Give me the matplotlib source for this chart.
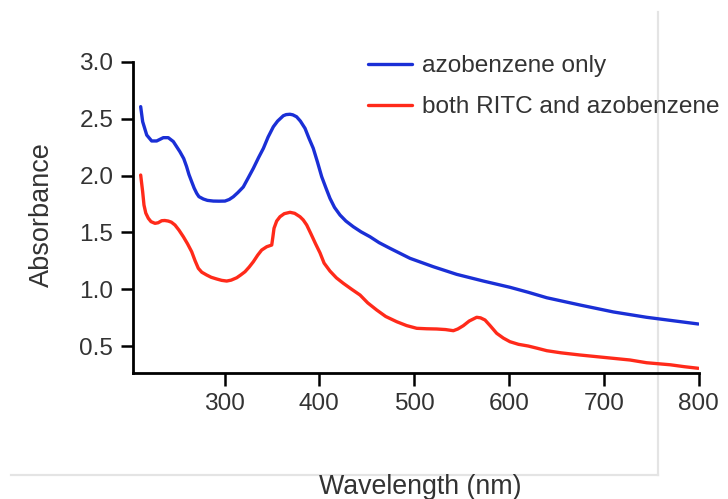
import matplotlib
matplotlib.use("Agg")
import matplotlib.pyplot as plt
from matplotlib.lines import Line2D

plt.rcParams['font.family'] = ['Liberation Sans', 'DejaVu Sans']

# --- data ---
wl_azo = [211.6, 213.7, 218.0, 223.2, 228.5, 235.5, 240.7, 246.0, 253.0, 257.0,
          260.0, 262.5, 265.4, 268.0, 270.7, 273.0, 277.7, 282.0, 288.2, 294.0,
          300.5, 305.0, 309.3, 314.0, 319.8, 325.0, 330.4, 336.0, 341.0, 346.0,
          351.5, 356.0, 362.0, 365.0, 369.0, 372.0, 376.0, 380.0, 384.9, 389.0,
          393.6, 398.0, 402.5, 407.0, 411.2, 416.0, 421.8, 428.0, 435.8, 444.0,
          453.4, 463.0, 474.5, 495.6, 520.2, 544.8, 572.9, 601.0, 620.3, 639.8,
          674.9, 710.0, 745.0, 799.6]
abs_azo = [2.607, 2.475, 2.357, 2.305, 2.305, 2.334, 2.334, 2.300, 2.210, 2.150,
           2.080, 2.010, 1.946, 1.890, 1.844, 1.815, 1.794, 1.782, 1.776, 1.775,
           1.776, 1.790, 1.814, 1.850, 1.900, 1.980, 2.064, 2.160, 2.240, 2.340,
           2.430, 2.480, 2.527, 2.537, 2.540, 2.535, 2.518, 2.480, 2.416, 2.330,
           2.240, 2.120, 1.990, 1.890, 1.800, 1.720, 1.653, 1.600, 1.550, 1.505,
           1.462, 1.410, 1.360, 1.272, 1.198, 1.131, 1.072, 1.017, 0.973, 0.925,
           0.861, 0.800, 0.753, 0.694]

wl_both = [211.6, 213.7, 215.1, 217.0, 219.7, 222.5, 226.7, 230.0, 233.8, 237.0,
           240.7, 244.0, 247.8, 252.0, 256.6, 261.0, 265.4, 269.0, 272.4, 276.0,
           281.2, 286.0, 291.8, 297.0, 302.3, 307.0, 312.9, 317.0, 321.6, 326.0,
           330.4, 335.0, 339.2, 344.5, 349.8, 351.0, 352.2, 355.0, 358.5, 363.0,
           369.1, 374.0, 379.6, 383.0, 386.7, 391.0, 396.0, 400.7, 405.0, 411.2,
           418.0, 425.3, 434.0, 442.9, 451.0, 460.5, 470.0, 481.6, 492.0, 502.7,
           513.0, 523.7, 533.0, 541.3, 546.0, 551.8, 558.0, 565.9, 570.0, 574.7,
           580.0, 587.0, 594.0, 601.0, 610.0, 620.3, 630.0, 639.8, 655.0, 674.9,
           700.0, 727.6, 745.0, 770.0, 785.0, 799.6]
abs_both = [2.005, 1.858, 1.741, 1.670, 1.624, 1.595, 1.580, 1.585, 1.603, 1.605,
            1.600, 1.590, 1.565, 1.520, 1.462, 1.400, 1.330, 1.250, 1.184, 1.150,
            1.125, 1.105, 1.090, 1.078, 1.072, 1.080, 1.101, 1.125, 1.154, 1.195,
            1.242, 1.300, 1.345, 1.374, 1.389, 1.460, 1.536, 1.600, 1.638, 1.665,
            1.677, 1.668, 1.638, 1.610, 1.565, 1.490, 1.400, 1.320, 1.230, 1.160,
            1.100, 1.052, 1.000, 0.949, 0.880, 0.817, 0.760, 0.714, 0.680, 0.656,
            0.652, 0.650, 0.645, 0.635, 0.650, 0.679, 0.720, 0.753, 0.748, 0.729,
            0.680, 0.612, 0.570, 0.538, 0.515, 0.500, 0.480, 0.459, 0.440, 0.421,
            0.400, 0.377, 0.353, 0.335, 0.318, 0.304]

series_labels = ["azobenzene only", "both RITC and azobenzene"]
series_colors = ["#1a2fd6", "#ff2a1a"]
x_ticks = [300, 400, 500, 600, 700, 800]
y_ticks = [0.5, 1.0, 1.5, 2.0, 2.5, 3.0]

fig = plt.figure(figsize=(7.28, 4.99), dpi=100)
ax = fig.add_axes([132.7 / 728, 1 - 373.3 / 499, (698.7 - 132.7) / 728, (373.3 - 62) / 499])
ax.patch.set_alpha(0)

ax.plot(wl_azo, abs_azo, color=series_colors[0], lw=2.4, label=series_labels[0],
        solid_joinstyle='round', solid_capstyle='round')
ax.plot(wl_both, abs_both, color=series_colors[1], lw=2.4, label=series_labels[1],
        solid_joinstyle='round', solid_capstyle='round')

ax.set_xlim(203.2, 800)
ax.set_ylim(0.26, 3.0)
ax.set_xticks(x_ticks)
ax.set_yticks(y_ticks)
ax.set_yticklabels([f"{v:.1f}" for v in y_ticks])

for s in ['top', 'right']:
    ax.spines[s].set_visible(False)
for s in ['left', 'bottom']:
    ax.spines[s].set_linewidth(2.0)
    ax.spines[s].set_color('black')

ax.tick_params(axis='both', direction='out', length=9, width=1.8, color='black',
               labelsize=17.6, labelcolor='#333333', pad=5)

fig.text(420 / 728, 1 - 487 / 499, "Wavelength (nm)", ha='center', va='center',
         fontsize=19.3, color='#333333')
fig.text(41.7 / 728, 1 - 215 / 499, "Absorbance", ha='center', va='center', rotation=90,
         fontsize=19.5, color='#333333')

leg = ax.legend(loc='upper left', bbox_to_anchor=(368 / 728, 1 - 55 / 499),
                bbox_transform=fig.transFigure, frameon=False, fontsize=17.6,
                handlelength=1.8, handletextpad=0.42, labelspacing=0.78,
                borderpad=0, borderaxespad=0)
for t in leg.get_texts():
    t.set_color('#333333')

# faint frame from the original screenshot (behind the chart)
fig.add_artist(Line2D([657.7 / 728, 657.7 / 728], [1 - 12 / 499, 1 - 475 / 499],
                      transform=fig.transFigure, color='#e4e4e4', lw=1.6, zorder=-5))
fig.add_artist(Line2D([11 / 728, 657.7 / 728], [1 - 475 / 499, 1 - 475 / 499],
                      transform=fig.transFigure, color='#e4e4e4', lw=1.6, zorder=-5))

fig.savefig("out.png", dpi=100)
